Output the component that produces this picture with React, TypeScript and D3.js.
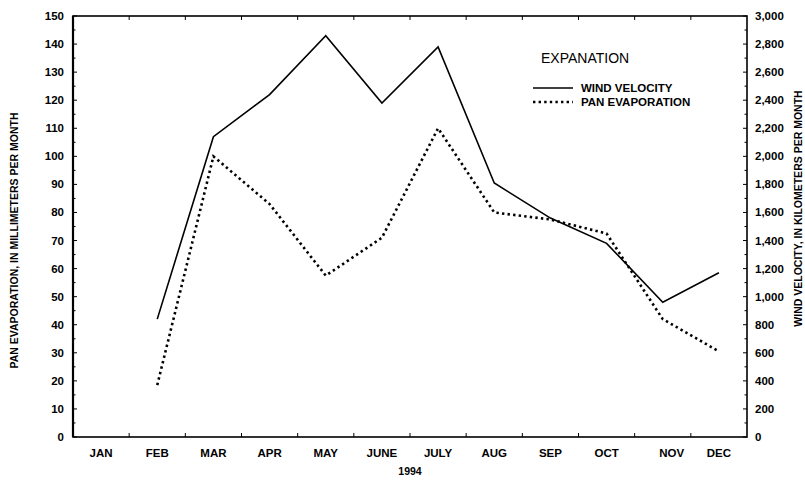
import React from "react";
import * as d3 from "d3";

const months = ["JAN", "FEB", "MAR", "APR", "MAY", "JUNE", "JULY", "AUG", "SEP", "OCT", "NOV", "DEC"];
const windMonths = ["FEB", "MAR", "APR", "MAY", "JUNE", "JULY", "AUG", "SEP", "OCT", "NOV", "DEC"];
const windVelocity = [840, 2140, 2440, 2860, 2380, 2780, 1810, 1560, 1380, 960, 1170];
const panMonths = ["FEB", "MAR", "APR", "MAY", "JUNE", "JULY", "AUG", "SEP", "OCT", "NOV", "DEC"];
const panEvaporation = [18.5, 100, 83, 57.5, 71, 110, 80, 77.5, 72.5, 42, 30.5];
const leftTicks = [0, 10, 20, 30, 40, 50, 60, 70, 80, 90, 100, 110, 120, 130, 140, 150];
const rightTicks = [0, 200, 400, 600, 800, 1000, 1200, 1400, 1600, 1800, 2000, 2200, 2400, 2600, 2800, 3000];

const W = 805;
const H = 484;
const L = 73, R = 747, T = 16, B = 437;
const FONT = "'Liberation Sans', Arial, Helvetica, sans-serif";

export default function App() {
  React.useEffect(() => {
    document.body.style.margin = "0";
  }, []);

  const x = d3.scaleBand<string>().domain(months).range([L, R]).padding(0);
  const cx = (m: string) => (x(m) as number) + x.bandwidth() / 2;
  const yL = d3.scaleLinear().domain([0, 150]).range([B, T]);
  const yR = d3.scaleLinear().domain([0, 3000]).range([B, T]);

  const windLine = d3
    .line<number>()
    .x((_, i) => cx(windMonths[i]))
    .y((d) => yR(d))(windVelocity) as string;
  const panLine = d3
    .line<number>()
    .x((_, i) => cx(panMonths[i]))
    .y((d) => yL(d))(panEvaporation) as string;

  const leftMinor = d3.range(5, 150, 10);
  const rightMinor = d3.range(100, 3000, 200);
  const boundaries = months.slice(1).map((m) => x(m) as number);
  const labelShift: Record<string, number> = { NOV: 9 };

  return (
    <svg width={W} height={H} viewBox={`0 0 ${W} ${H}`} style={{ display: "block", position: "absolute", left: 0, top: 0, background: "#fff" }} fontFamily={FONT}>
      <rect x={0} y={0} width={W} height={H} fill="#fff" />
      {/* frame */}
      <rect x={L} y={T} width={R - L} height={B - T} fill="none" stroke="#000" strokeWidth={1.6} />
      <line x1={L} x2={L} y1={T} y2={B} stroke="#000" strokeWidth={2.2} />

      {/* left ticks */}
      {leftTicks.map((v) => (
        <g key={"l" + v}>
          <line x1={L} x2={L + 4} y1={yL(v)} y2={yL(v)} stroke="#000" strokeWidth={1} />
          <text x={64} y={yL(v)} dy="0.35em" textAnchor="end" fontSize={11.5} fontWeight="bold" fill="#000">{v}</text>
        </g>
      ))}
      {leftMinor.map((v) => (
        <line key={"lm" + v} x1={L} x2={L + 2.5} y1={yL(v)} y2={yL(v)} stroke="#000" strokeWidth={1} />
      ))}

      {/* right ticks */}
      {rightTicks.map((v) => (
        <g key={"r" + v}>
          <line x1={R - 4} x2={R} y1={yR(v)} y2={yR(v)} stroke="#000" strokeWidth={1} />
          <text x={755} y={yR(v)} dy="0.35em" textAnchor="start" fontSize={11.5} fontWeight="bold" fill="#000">{d3.format(",")(v)}</text>
        </g>
      ))}
      {rightMinor.map((v) => (
        <line key={"rm" + v} x1={R - 2.5} x2={R} y1={yR(v)} y2={yR(v)} stroke="#000" strokeWidth={1} />
      ))}

      {/* x ticks */}
      {boundaries.map((bx, i) => (
        <g key={"x" + i}>
          <line x1={bx} x2={bx} y1={B} y2={B - 4} stroke="#000" strokeWidth={1} />
          <line x1={bx} x2={bx} y1={T} y2={T + 4} stroke="#000" strokeWidth={1} />
        </g>
      ))}
      {months.map((m) => (
        <text key={m} x={cx(m) + (labelShift[m] || 0)} y={457} textAnchor="middle" fontSize={11.5} fontWeight="bold" fill="#000">{m}</text>
      ))}
      <text x={410} y={475} textAnchor="middle" fontSize={10.5} fontWeight="bold" fill="#000">1994</text>

      {/* axis titles */}
      <text transform={`translate(18,${(T + B) / 2 + 14}) rotate(-90)`} textAnchor="middle" fontSize={10.5} fontWeight="bold" fill="#000">PAN EVAPORATION, IN MILLIMETERS PER MONTH</text>
      <text transform={`translate(802,${(T + B) / 2 - 18}) rotate(-90)`} textAnchor="middle" fontSize={10.5} fontWeight="bold" fill="#000">WIND VELOCITY, IN KILOMETERS PER MONTH</text>

      {/* lines */}
      <path d={windLine} fill="none" stroke="#000" strokeWidth={1.6} strokeLinejoin="miter" />
      <path d={panLine} fill="none" stroke="#000" strokeWidth={2.6} strokeDasharray="2.4,3.2" />

      {/* legend */}
      <text x={541} y={63} fontSize={14} fill="#000" fontWeight={500}>EXPANATION</text>
      <line x1={533} x2={573} y1={88} y2={88} stroke="#000" strokeWidth={1.6} />
      <text x={581} y={92} fontSize={11.5} fontWeight="bold" fill="#000">WIND VELOCITY</text>
      <line x1={533} x2={573} y1={102} y2={102} stroke="#000" strokeWidth={2.6} strokeDasharray="2.4,3.2" />
      <text x={581} y={106} fontSize={11.5} fontWeight="bold" fill="#000">PAN EVAPORATION</text>
    </svg>
  );
}
